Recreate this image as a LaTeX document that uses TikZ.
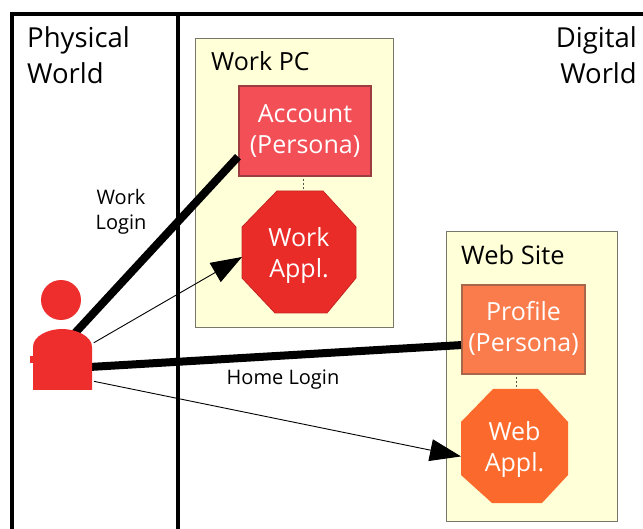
\documentclass[tikz,border=0pt]{standalone}
\usepackage{fontspec}
\setmainfont{Open Sans}
\usetikzlibrary{arrows.meta}
\definecolor{boxfill}{HTML}{FFFFD8}
\definecolor{boxedge}{HTML}{77776A}
\definecolor{redapp}{HTML}{EA2C29}
\definecolor{redacc}{HTML}{F24F57}
\definecolor{redacce}{HTML}{9A3C40}
\definecolor{orgapp}{HTML}{FB6A2C}
\definecolor{orgpro}{HTML}{FA7C4C}
\definecolor{orgproe}{HTML}{A8664A}
\definecolor{person}{HTML}{EE2E2C}
\tikzset{
  frameline/.style={line width=4pt,line cap=butt},
  container/.style={fill=boxfill,draw=boxedge,line width=1pt},
  wtext/.style={text=white,font=\fontsize{25}{31}\selectfont,align=center},
  btext/.style={text=black,font=\fontsize{25}{31}\selectfont,align=left,inner sep=0pt},
  bigtext/.style={text=black,font=\fontsize{27.5}{33}\selectfont,inner sep=0pt},
  ltext/.style={text=black,font=\fontsize{20}{25}\selectfont,align=center,inner sep=0pt},
  heavy/.style={line width=8pt,draw=black},
  thinarrow/.style={line width=0.9pt,draw=black,-{Triangle[length=31pt,width=22pt]}},
  dotlink/.style={line width=1pt,dash pattern=on 2pt off 2pt,draw=boxedge!70!black},
}
\begin{document}
\begin{tikzpicture}[x=1pt,y=-1pt]
\useasboundingbox (0,0) rectangle (643,529);
\fill[white] (0,0) rectangle (643,529);
% frame
\draw[frameline] (12,529) -- (12,14) -- (643,14);
\draw[frameline] (178,14) -- (178,529);
% containers
\draw[container] (195,39) rectangle (393,328);
\draw[container] (446,232) rectangle (617,521);
% boxes
\node[draw=redacce,fill=redacc,line width=2pt,minimum width=132pt,minimum height=90pt,inner sep=0pt,outer sep=1pt,wtext] (account) at (305,131) {Account\\(Persona)};
\node[draw=orgproe,fill=orgpro,line width=2pt,minimum width=123pt,minimum height=89pt,inner sep=0pt,outer sep=1pt,wtext] (profile) at (523.5,329.5) {\raisebox{1.5pt}{\begin{tabular}{@{}c@{}}\textcolor{white}{Profile}\\[0pt]\textcolor{white}{(Persona)}\end{tabular}}};
% octagons
\fill[redapp,draw=redapp!85!black,line width=0.8pt] (277,191) -- (323,191) -- (356,227) -- (356,278) -- (327,313) -- (275,313) -- (242,278) -- (242,227) -- cycle;
\fill[orgapp] (493,389) -- (538,389) -- (568,422) -- (568,475) -- (542,503) -- (492,503) -- (461,475) -- (461,422) -- cycle;
\node[minimum width=114pt,minimum height=122pt,inner sep=0pt,outer sep=0pt,label={[wtext,yshift=-3.5pt]center:{Work\\Appl.}}] (workappl) at (299,252) {};
\node[minimum width=107pt,minimum height=114pt,inner sep=0pt,outer sep=0pt,label={[wtext,yshift=-4pt]center:{Web\\Appl.}}] (webappl) at (514.5,446) {};
% person
\node[circle,fill=person,minimum size=40pt,inner sep=0pt,outer sep=0pt] (head) at (61,300) {};
\node[minimum width=59pt,minimum height=61pt,inner sep=0pt,outer sep=0pt] (user) at (62.5,359.5) {};
% connectors
\draw[heavy,shorten <=-7pt] (user.62) -- (account.201);
\draw[heavy] (user.-14) -- (profile.194.8);
\draw[thinarrow,shorten <=2pt] (user.28) -- (workappl.185);
\draw[thinarrow,shorten <=2pt] (user.-36) -- (webappl.191.6);
\fill[person] (33,390) -- (33,347) .. controls (33,336) and (48,329) .. (62,329) .. controls (76,329) and (92,336) .. (92,347) -- (92,390) -- cycle;
\fill[person] (30,356) rectangle (34,363);
\draw[dotlink] (account.south) ++(-2,2) coordinate (adot) (adot) -- (workappl.north -| adot);
\draw[dotlink] (profile.south) ++(-7,2) coordinate (pdot) (pdot) -- (webappl.north -| pdot);
% labels
\node[bigtext,anchor=west] (physical) at (27,40) {Physical};
\node[bigtext,anchor=west] (world1) at (27,73) {World};
\node[bigtext,anchor=east] (digital) at (637,40) {Digital};
\node[bigtext,anchor=east] (world2) at (637,73) {World};
\node[btext,anchor=west] (workpc) at (211,61) {Work PC};
\node[btext,anchor=west,font=\fontsize{25.5}{31}\selectfont] (website) at (461,255) {Web Site};
\node[ltext] (worklogin) at (121,211.5) {Work\\Login};
\node[ltext] (homelogin) at (283,380) {Home Login};
\end{tikzpicture}
\end{document}
